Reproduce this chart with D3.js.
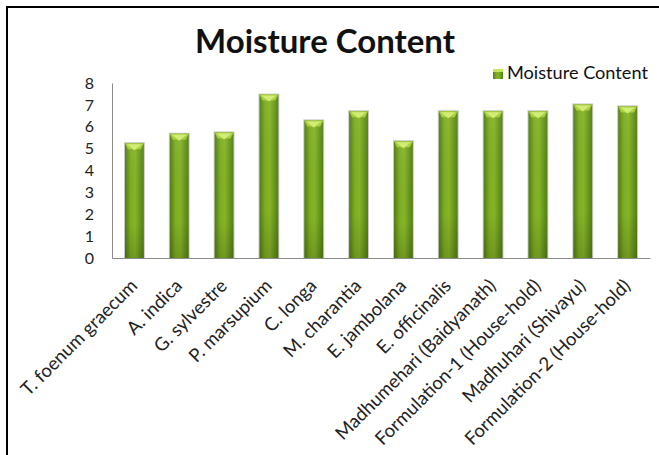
<!DOCTYPE html>
<html>
<head>
<meta charset="utf-8">
<script src="https://cdn.jsdelivr.net/npm/d3@7"></script>
<style>
  body { margin: 0; background: #fff; }
  text { font-family: Lato, "Open Sans", sans-serif; }
</style>
</head>
<body>
<div id="chart"></div>
<script>
// data
const categories = ["T. foenum graecum", "A. indica", "G. sylvestre", "P. marsupium", "C. longa",
  "M. charantia", "E. jambolana", "E. officinalis", "Madhumehari (Baidyanath)",
  "Formulation-1 (House-hold)", "Madhuhari (Shivayu)", "Formulation-2 (House-hold)"];
const moisture = [5.25, 5.68, 5.74, 7.47, 6.29, 6.71, 5.34, 6.71, 6.71, 6.71, 7.02, 6.93];
const yTicks = [0, 1, 2, 3, 4, 5, 6, 7, 8];
const seriesName = "Moisture Content";
const chartTitle = "Moisture Content";

const W = 659, H = 455;
const margin = { top: 83, right: 7, bottom: 197, left: 112 };
const width = W - margin.left - margin.right,
      height = H - margin.top - margin.bottom;

const svg = d3.select("#chart").append("svg")
  .attr("width", W).attr("height", H);

// gradients
const defs = svg.append("defs");
const grad = defs.append("linearGradient").attr("id", "barGrad")
  .attr("x1", "0%").attr("x2", "100%").attr("y1", "0%").attr("y2", "0%");
grad.append("stop").attr("offset", "0%").attr("stop-color", "#4f7d12");
grad.append("stop").attr("offset", "30%").attr("stop-color", "#7fad22");
grad.append("stop").attr("offset", "55%").attr("stop-color", "#86b428");
grad.append("stop").attr("offset", "100%").attr("stop-color", "#527f14");
const vgrad = defs.append("linearGradient").attr("id", "barShade")
  .attr("x1", "0%").attr("x2", "0%").attr("y1", "0%").attr("y2", "100%");
vgrad.append("stop").attr("offset", "0%").attr("stop-color", "#ffffff").attr("stop-opacity", 0.05);
vgrad.append("stop").attr("offset", "70%").attr("stop-color", "#000000").attr("stop-opacity", 0);
vgrad.append("stop").attr("offset", "100%").attr("stop-color", "#000000").attr("stop-opacity", 0.15);

// frame
svg.append("rect")
  .attr("x", 7).attr("y", 7).attr("width", W).attr("height", H)
  .attr("fill", "none").attr("stroke", "#000").attr("stroke-width", 2);

function fitText(sel, target) {
  const fs = parseFloat(sel.attr("font-size"));
  const w = sel.node().getComputedTextLength();
  sel.attr("font-size", fs * target / w);
}

// title
const title = svg.append("text")
  .attr("x", 325).attr("y", 53)
  .attr("text-anchor", "middle")
  .attr("font-weight", "bold")
  .attr("font-size", 28)
  .attr("fill", "#111")
  .text(chartTitle);
fitText(title, 260);

const g = svg.append("g")
  .attr("transform", `translate(${margin.left}, ${margin.top})`);

const x = d3.scaleBand()
  .domain(categories)
  .range([0, width - 2])
  .paddingInner(0.58)
  .paddingOuter(0.29);

const y = d3.scaleLinear()
  .domain([0, 8])
  .range([height, 0]);

// y axis
const yAxis = g.append("g")
  .call(d3.axisLeft(y).tickValues(yTicks).tickSize(0).tickPadding(18).tickFormat(d3.format("d")));
yAxis.select(".domain").attr("stroke", "#8c8c8c");
yAxis.selectAll("text")
  .style("font-size", "16px")
  .style("font-family", "Lato, sans-serif")
  .attr("fill", "#222");

// x axis
const xAxis = g.append("g")
  .attr("transform", `translate(0, ${height})`)
  .call(d3.axisBottom(x).tickSize(0).tickPadding(0));
xAxis.select(".domain").attr("stroke", "#8c8c8c");
xAxis.selectAll("text")
  .style("font-size", "18.5px")
  .style("font-family", "Lato, sans-serif")
  .attr("fill", "#222")
  .style("text-anchor", "end")
  .attr("dy", "0")
  .attr("transform", `translate(4, 29) rotate(-45)`);

// shadows
g.selectAll(".shadow")
  .data(moisture)
  .join("rect")
  .attr("class", "shadow")
  .attr("x", (d, i) => x(categories[i]) - 1)
  .attr("y", d => y(d) - 1)
  .attr("width", x.bandwidth() + 2)
  .attr("height", d => height - y(d) + 1)
  .attr("fill", "#c8c8c8");

// bars
g.selectAll(".bar")
  .data(moisture)
  .join("rect")
  .attr("class", "bar")
  .attr("x", (d, i) => x(categories[i]))
  .attr("y", d => y(d))
  .attr("width", x.bandwidth())
  .attr("height", d => height - y(d))
  .attr("fill", "url(#barGrad)");
g.selectAll(".bar-shade")
  .data(moisture)
  .join("rect")
  .attr("x", (d, i) => x(categories[i]))
  .attr("y", d => y(d))
  .attr("width", x.bandwidth())
  .attr("height", d => height - y(d))
  .attr("fill", "url(#barShade)");

// bevel caps
const capH = 6;
g.selectAll(".cap")
  .data(moisture)
  .join("path")
  .attr("class", "cap")
  .attr("d", (d, i) => {
    const x0 = x(categories[i]), x1 = x0 + x.bandwidth(), t = y(d);
    return `M${x0},${t}L${x1},${t}L${x1 - 3},${t + capH}L${x0 + 3},${t + capH}Z`;
  })
  .attr("fill", "#a9d13c");
g.selectAll(".cap-tri")
  .data(moisture)
  .join("path")
  .attr("d", (d, i) => {
    const x0 = x(categories[i]), x1 = x0 + x.bandwidth(), t = y(d);
    const cx = (x0 + x1) / 2;
    return `M${x0 + 2},${t + 1}L${x1 - 2},${t + 1}L${cx},${t + capH + 1}Z`;
  })
  .attr("fill", "#d2ec7a");

// legend
const lg = svg.append("g").attr("transform", "translate(493, 69)");
lg.append("rect").attr("width", 10).attr("height", 10).attr("fill", "url(#barGrad)");
lg.append("rect").attr("width", 10).attr("height", 3).attr("fill", "#c5e560");
const lt = lg.append("text")
  .attr("x", 14).attr("y", 10)
  .attr("font-size", 14)
  .attr("fill", "#111")
  .text(seriesName);
fitText(lt, 141);
</script>
</body>
</html>
